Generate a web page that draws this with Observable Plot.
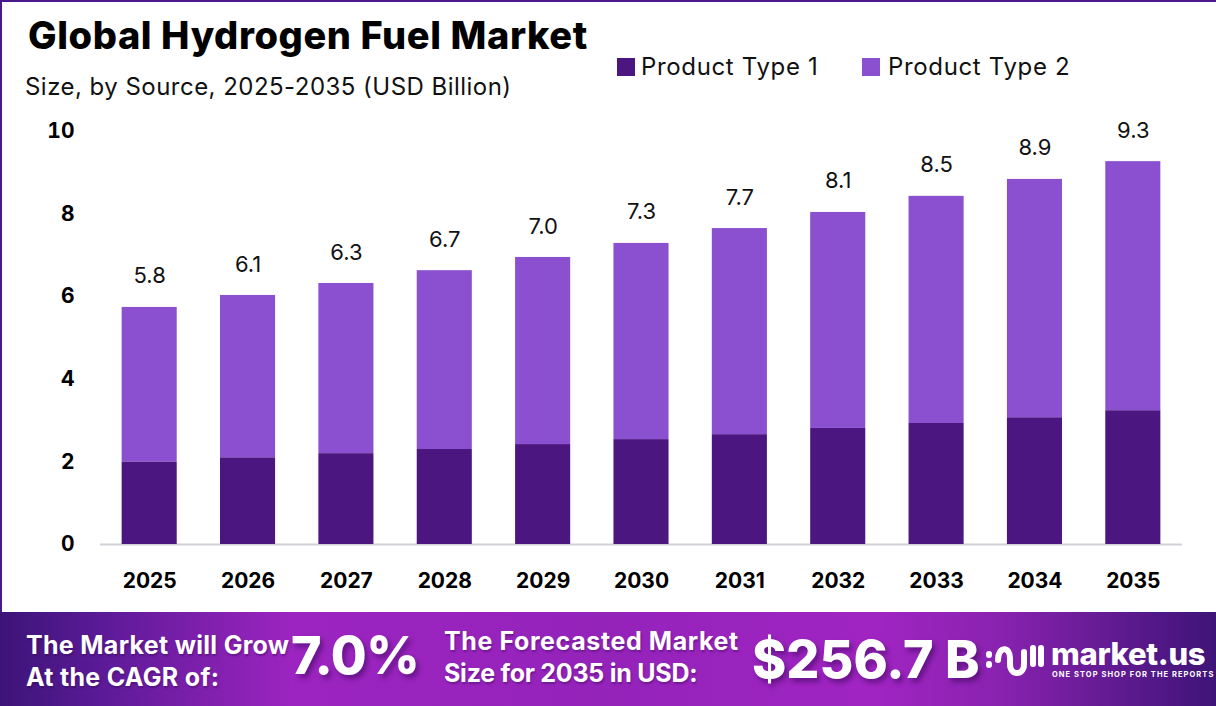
<!DOCTYPE html>
<html>
<head>
<meta charset="utf-8">
<script src="https://cdn.jsdelivr.net/npm/d3@7"></script>
<script src="https://cdn.jsdelivr.net/npm/@observablehq/plot@0.6"></script>
<style>
html,body{margin:0;padding:0;background:#fff;overflow:hidden}
body{width:1216px;height:706px;font-family:Inter,"Open Sans",sans-serif;color:#000}
#frame{position:relative;width:1216px;height:706px;box-sizing:border-box;border-top:2px solid #4a1a8c;border-left:2px solid #4a1a8c}
#head{position:absolute;left:-2px;top:-2px;width:1216px;height:110px}
#head div,#banner div{position:absolute;white-space:nowrap}
#chart{position:absolute;left:-2px;top:108px;width:1216px;height:502px}
#chart svg{display:block}
#title{left:28px;top:13px;font-size:38px;font-weight:800;letter-spacing:.6px;word-spacing:0;line-height:44px}
#sub{left:25px;top:72px;font-size:24px;font-weight:400;letter-spacing:.47px;line-height:30px;color:#111}
.lg{top:52px;font-size:24px;line-height:30px;color:#111;letter-spacing:.65px}
.sw{top:58px;width:18px;height:18px}
#banner{position:absolute;left:-2px;top:610px;width:1216px;height:94px;overflow:hidden;
 background:linear-gradient(90deg,#3c1477 0%,#5a1a96 8%,#9c24c0 24%,#9423ba 50%,#a024c2 72%,#8a22b0 82%,#3e1477 100%);color:#fff;font-weight:700}
.cap{font-size:25px;line-height:32px;letter-spacing:.3px;text-shadow:1px 2px 2px rgba(40,0,70,.35)}
.big{font-weight:800;text-shadow:3px 4px 5px rgba(40,0,70,.45)}
</style>
</head>
<body>
<div id="frame">
 <div id="head">
  <div id="title">Global Hydrogen Fuel Market</div>
  <div id="sub">Size, by Source, 2025-2035 (USD Billion)</div>
  <div class="sw" style="left:617px;background:#4c1680"></div>
  <div class="lg" style="left:641px">Product Type 1</div>
  <div class="sw" style="left:862px;background:#8b50cf"></div>
  <div class="lg" style="left:888px">Product Type 2</div>
 </div>
 <div id="chart"></div>
 <div id="banner">
  <div class="cap" style="left:26px;top:17px">The Market will Grow<br>At the CAGR of:</div>
  <div class="big" style="left:291px;top:8px;font-size:52px;line-height:72px;letter-spacing:-.5px">7.0%</div>
  <div class="cap" style="left:444px;top:13px;letter-spacing:.6px">The Forecasted Market<br><span style="letter-spacing:-.25px">Size for 2035 in USD:</span></div>
  <div class="big" style="left:752px;top:14px;font-size:52px;line-height:68px">$256.7 B</div>
  <svg style="position:absolute;left:986px;top:28px" width="58" height="38" viewBox="0 0 58 38" fill="none" stroke="#fff" stroke-width="6" stroke-linecap="round">
   <path d="M12 20 C12 6 24 6 24 18 L24 24 C24 36 38 36 38 24 L38 12"/><path d="M47 8 L47 24"/><path d="M55 8 L55 24"/><path d="M3 14 L3 15"/><path d="M3 24 L3 25"/>
  </svg>
  <div style="left:1051px;top:27px;font-size:31px;line-height:30px;font-weight:800;letter-spacing:-.3px">market.us</div>
  <div style="left:1052px;top:58px;font-size:7.5px;line-height:10px;font-weight:700;letter-spacing:1.06px">ONE STOP SHOP FOR THE REPORTS</div>
 </div>
</div>
<script>
const years = ["2025","2026","2027","2028","2029","2030","2031","2032","2033","2034","2035"];
const productType1 = [2.0,2.1,2.2,2.3,2.42,2.54,2.66,2.81,2.93,3.07,3.24];
const productType2 = [3.74,3.93,4.12,4.33,4.53,4.75,4.99,5.23,5.5,5.77,6.03];
const totalLabels = ["5.8","6.1","6.3","6.7","7.0","7.3","7.7","8.1","8.5","8.9","9.3"];
const seriesNames = ["Product Type 1","Product Type 2"];
const seriesColors = ["#4c1680","#8b50cf"];
const yTicks = [0,2,4,6,8,10];

const rows = years.flatMap((year,i)=>[
  {year,series:seriesNames[0],value:productType1[i]},
  {year,series:seriesNames[1],value:productType2[i]}
]);
const totals = years.map((year,i)=>({year,total:productType1[i]+productType2[i],label:totalLabels[i]}));

const chart = Plot.plot({
  width:1216,height:502,
  marginLeft:100,marginRight:34,marginTop:21,marginBottom:68,
  style:{background:"transparent",fontFamily:"Inter, sans-serif",overflow:"visible"},
  x:{domain:years,paddingInner:0.44,paddingOuter:0.22,round:false,label:null,tickSize:0},
  y:{domain:[0,10],label:null,ticks:yTicks,tickSize:0,grid:false},
  color:{domain:seriesNames,range:seriesColors},
  marks:[
    Plot.ruleY([0],{stroke:"#d2d0d6",strokeWidth:2}),
    Plot.barY(rows,{x:"year",y:"value",fill:"series",order:seriesNames,
      style:{filter:"drop-shadow(1.5px 0 1.5px rgba(70,60,90,.35))"}}),
    Plot.text(totals,{x:"year",y:"total",text:"label",dy:-31,fontSize:22,fill:"#111"}),
    Plot.axisX({tickSize:0,tickPadding:29,fontSize:21,fontWeight:700,fill:"#000",label:null}),
    Plot.axisY({ticks:yTicks,tickSize:0,tickPadding:26,fontSize:21,fontWeight:700,fill:"#000",label:null})
  ]
});
document.getElementById("chart").appendChild(chart);
</script>
</body>
</html>
